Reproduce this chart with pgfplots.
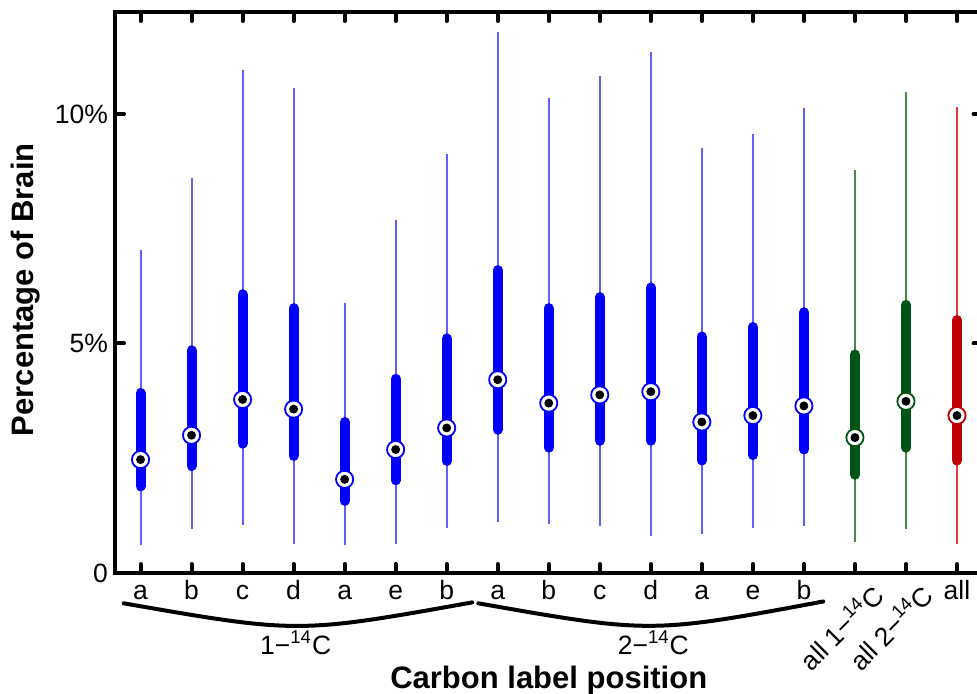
\documentclass[border=0pt]{standalone}
\usepackage{fontspec}
\setmainfont{Liberation Sans}
\usepackage{pgfplots}
\pgfplotsset{compat=1.18}
\usepackage{pgfplotstable}

\definecolor{bbox}{RGB}{0,0,255}
\definecolor{bwhisk}{RGB}{95,95,255}
\definecolor{gbox}{RGB}{0,85,20}
\definecolor{gwhisk}{RGB}{70,140,70}
\definecolor{rbox}{RGB}{192,0,0}
\definecolor{rwhisk}{RGB}{228,60,60}

\newcommand{\tfont}{\fontsize{13.25}{15}\selectfont}
\newcommand{\lfont}{\fontsize{15.5}{18}\selectfont\bfseries}

\pgfplotstableread{
x min q1 med q3 max
0 0.60 1.89 2.47 3.92 7.03
1 0.95 2.33 3.00 4.85 8.60
2 1.05 2.82 3.78 6.07 10.95
3 0.64 2.55 3.57 5.77 10.57
4 0.60 1.57 2.04 3.29 5.88
5 0.64 2.02 2.69 4.23 7.69
6 0.98 2.44 3.16 5.11 9.13
7 1.11 3.12 4.21 6.60 11.78
8 1.06 2.73 3.70 5.77 10.35
9 1.03 2.88 3.88 6.01 10.83
10 0.81 2.88 3.95 6.22 11.34
11 0.85 2.45 3.29 5.15 9.26
12 0.98 2.57 3.43 5.36 9.57
13 1.03 2.69 3.64 5.68 10.13
}\tblue
\pgfplotstableread{
x min q1 med q3 max
14 0.67 2.14 2.95 4.76 8.78
15 0.95 2.73 3.74 5.84 10.48
}\tgreen
\pgfplotstableread{
x min q1 med q3 max
16 0.64 2.45 3.43 5.51 10.14
}\tred

\pgfplotsset{
  whisk/.style={only marks, mark=none, forget plot,
    error bars/y dir=both, error bars/y explicit, error bars/error mark=none,
    error bars/error bar style={line width=1pt, color=#1}},
  bar/.style={only marks, mark=none, forget plot,
    error bars/y dir=both, error bars/y explicit, error bars/error mark=none,
    error bars/error bar style={line width=5pt, line cap=round, color=#1}},
  medc/.style={only marks, forget plot, mark=*, mark size=4.3pt,
    mark options={fill=white, draw=#1, line width=0.9pt}},
  medd/.style={only marks, forget plot, mark=*, mark size=2pt,
    mark options={fill=black, draw=black}},
}

\begin{document}
\begin{tikzpicture}
\begin{axis}[
  scale only axis, width=433.75pt, height=280.5pt,
  xmin=-0.5, xmax=16.5, ymin=0, ymax=12.22,
  axis line style={line width=2.3pt},
  xtick={0,...,16},
  xticklabels={a,b,c,d,a,e,b,a,b,c,d,a,e,b,,,all},
  ytick={0,5,10}, yticklabels={0,5\%,10\%},
  tick align=inside, major tick length=4.5pt,
  tick style={line width=2pt, black, line cap=round},
  xticklabel style={anchor=base, yshift=-13pt, font=\tfont},
  yticklabel style={font=\tfont},
  clip=false,
]
% whiskers
\addplot[whisk=bwhisk] table[x=x, y=med, y error plus expr=\thisrow{max}-\thisrow{med}, y error minus expr=\thisrow{med}-\thisrow{min}] {\tblue};
\addplot[whisk=gwhisk] table[x=x, y=med, y error plus expr=\thisrow{max}-\thisrow{med}, y error minus expr=\thisrow{med}-\thisrow{min}] {\tgreen};
\addplot[whisk=rwhisk] table[x=x, y=med, y error plus expr=\thisrow{max}-\thisrow{med}, y error minus expr=\thisrow{med}-\thisrow{min}] {\tred};
% boxes
\addplot[bar=bbox] table[x=x, y=med, y error plus expr=\thisrow{q3}-\thisrow{med}, y error minus expr=\thisrow{med}-\thisrow{q1}] {\tblue};
\addplot[bar=gbox] table[x=x, y=med, y error plus expr=\thisrow{q3}-\thisrow{med}, y error minus expr=\thisrow{med}-\thisrow{q1}] {\tgreen};
\addplot[bar=rbox] table[x=x, y=med, y error plus expr=\thisrow{q3}-\thisrow{med}, y error minus expr=\thisrow{med}-\thisrow{q1}] {\tred};
% medians
\addplot[medc=bbox] table[x=x, y=med] {\tblue};
\addplot[medc=gbox] table[x=x, y=med] {\tgreen};
\addplot[medc=rbox] table[x=x, y=med] {\tred};
\addplot[medd] table[x=x, y=med] {\tblue};
\addplot[medd] table[x=x, y=med] {\tgreen};
\addplot[medd] table[x=x, y=med] {\tred};

% braces
\draw[line width=2pt, line cap=round] (axis cs:-0.33,-0.66) .. controls (axis cs:3.085,-1.32) .. (axis cs:6.5,-0.64);
\draw[line width=2pt, line cap=round] (axis cs:6.62,-0.66) .. controls (axis cs:10,-1.32) .. (axis cs:13.38,-0.62);
\node[anchor=base, font=\tfont] at (axis cs:3.04,-1.77) {1−\textsuperscript{14}C};
\node[anchor=base, font=\tfont] at (axis cs:10.05,-1.77) {2−\textsuperscript{14}C};
\node[anchor=east, rotate=45, font=\tfont, inner sep=0pt] at (axis cs:14.45,-0.36) {all 1−\textsuperscript{14}C};
\node[anchor=east, rotate=45, font=\tfont, inner sep=0pt] at (axis cs:15.42,-0.36) {all 2−\textsuperscript{14}C};
\node[anchor=base, font=\lfont] at (axis cs:8,-2.516) {Carbon label position};
\node[rotate=90, font=\lfont] at (axis cs:-2.252,6.17) {Percentage of Brain};
\coordinate (SW) at (rel axis cs:0,0);
\coordinate (NE) at (rel axis cs:1,1);
\end{axis}
\pgfresetboundingbox
\useasboundingbox ([shift={(-57.5pt,-60pt)}]SW) rectangle ([shift={(-2.75pt,6pt)}]NE);
\end{tikzpicture}
\end{document}
